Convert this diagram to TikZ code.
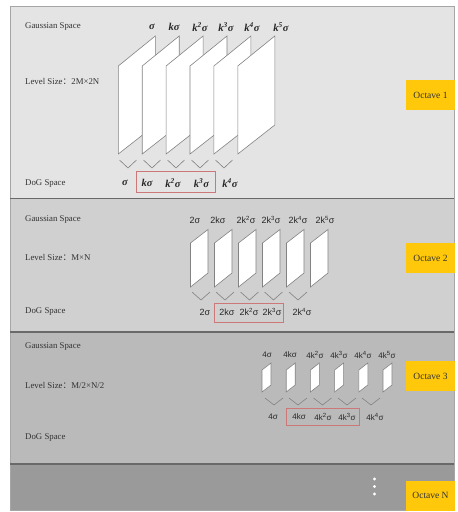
\documentclass[tikz,border=0pt]{standalone}
\usepackage{fontspec}
\setmainfont{Liberation Serif}
\newfontfamily\arialf{Liberation Sans}
\newfontfamily\cjkf{Noto Sans CJK SC}
\newcommand{\fwcolon}{{\cjkf ：}}
\definecolor{bandA}{RGB}{228,228,228}
\definecolor{bandB}{RGB}{208,208,208}
\definecolor{bandC}{RGB}{186,186,186}
\definecolor{bandD}{RGB}{154,154,154}
\definecolor{sepc}{RGB}{105,105,105}
\definecolor{octy}{RGB}{255,200,10}
\definecolor{boxred}{RGB}{205,120,120}
\definecolor{parac}{RGB}{130,130,130}
\definecolor{txtc}{RGB}{50,50,50}
\begin{document}
\begin{tikzpicture}[x=1pt,y=-1pt,
  lefttxt/.style={anchor=west,inner sep=0pt,text=txtc,font=\fontsize{8.8}{10}\selectfont},
  octbox/.style={fill=octy,inner sep=0pt,minimum width=49pt,minimum height=30pt,text=txtc,font=\fontsize{9.5}{11}\selectfont},
  biglab/.style={inner sep=0pt,text=black!85,font=\fontsize{10.5}{12}\selectfont\bfseries\itshape},
  midlab/.style={inner sep=0pt,text=black!85,font=\fontsize{9}{11}\selectfont\arialf},
  smllab/.style={inner sep=0pt,text=black!85,font=\fontsize{8}{10}\selectfont\arialf},
  para/.style={draw=parac,fill=white,line width=0.6pt,line join=miter},
  chev/.style={draw=parac,line width=0.6pt},
  redbox/.style={draw=boxred,line width=0.7pt}
]
\useasboundingbox (0,0) rectangle (458,512);
\fill[white] (0,0) rectangle (458,512);
% bands
\fill[bandA] (10,6) rectangle (454,198.5);
\fill[bandB] (10,198.5) rectangle (454,332);
\fill[bandC] (10,332) rectangle (454,464);
\fill[bandD] (10,464) rectangle (454,510);
\draw[black!35,line width=0.8pt] (10,6) rectangle (454,510);
\draw[sepc,line width=1.5pt] (10,198.5) -- (454,198.5);
\draw[sepc,line width=1.5pt] (10,332) -- (454,332);
\draw[sepc,line width=1.5pt] (10,464) -- (454,464);

% left labels
\node[lefttxt] (gs1) at (25,27) {Gaussian Space};
\node[lefttxt] (ls1) at (25,81) {Level Size\fwcolon 2M×2N};
\node[lefttxt] (ds1) at (25,184) {DoG Space};
\node[lefttxt] (gs2) at (25,220) {Gaussian Space};
\node[lefttxt] (ls2) at (25,257) {Level Size\fwcolon M×N};
\node[lefttxt] (ds2) at (25,312) {DoG Space};
\node[lefttxt] (gs3) at (25,347) {Gaussian Space};
\node[lefttxt] (ls3) at (25,385) {Level Size\fwcolon M/2×N/2};
\node[lefttxt] (ds3) at (25,438) {DoG Space};

% octave boxes
\node[octbox] (o1) at (430.5,95) {Octave 1};
\node[octbox] (o2) at (430.5,258) {Octave 2};
\node[octbox] (o3) at (430.5,376) {Octave 3};
\node[octbox] (o4) at (430.5,495.5) {Octave N};

% dots
\foreach \yy in {479,486.5,494} \fill[white] (374.5,\yy) circle (1.6);

% octave 1 parallelograms
\foreach \i in {0,...,5}{
  \pgfmathsetmacro{\xx}{118.3+23.9*\i}
  \draw[para] (\xx,66) -- (\xx,154) -- (\xx+37,125) -- (\xx+37,36) -- cycle;
}
\foreach \c in {128,152,176,200,224}
  \draw[chev] (\c-8.5,160) -- (\c,168) -- (\c+8.5,160);
\node[biglab] (a0) at (152,27) {σ};
\node[biglab] (a1) at (174,27) {kσ};
\node[biglab] (a2) at (200,27) {k\textsuperscript{2}σ};
\node[biglab] (a3) at (226,27) {k\textsuperscript{3}σ};
\node[biglab] (a4) at (252,27) {k\textsuperscript{4}σ};
\node[biglab] (a5) at (281,27) {k\textsuperscript{5}σ};
\node[biglab] (b0) at (125,183) {σ};
\node[biglab] (b1) at (147,183) {kσ};
\node[biglab] (b2) at (173,183) {k\textsuperscript{2}σ};
\node[biglab] (b3) at (201.5,183) {k\textsuperscript{3}σ};
\node[biglab] (b4) at (230,183) {k\textsuperscript{4}σ};
\draw[redbox] (136,171.5) rectangle (215,192.5);

% octave 2
\foreach \i in {0,...,5}{
  \pgfmathsetmacro{\xx}{190.5+24*\i}
  \draw[para] (\xx,243) -- (\xx,287) -- (\xx+17.5,273) -- (\xx+17.5,229.5) -- cycle;
}
\foreach \c in {201,225,249.5,273.5,298}
  \draw[chev] (\c-9,292) -- (\c,300) -- (\c+9,292);
\node[midlab] (c0) at (195,220) {2σ};
\node[midlab] (c1) at (218,220) {2kσ};
\node[midlab] (c2) at (246,220) {2k\textsuperscript{2}σ};
\node[midlab] (c3) at (271,220) {2k\textsuperscript{3}σ};
\node[midlab] (c4) at (298,220) {2k\textsuperscript{4}σ};
\node[midlab] (c5) at (325,220) {2k\textsuperscript{5}σ};
\node[midlab] (d0) at (205,312) {2σ};
\node[midlab] (d1) at (227,312) {2kσ};
\node[midlab] (d2) at (249,312) {2k\textsuperscript{2}σ};
\node[midlab] (d3) at (272,312) {2k\textsuperscript{3}σ};
\node[midlab] (d4) at (302,312) {2k\textsuperscript{4}σ};
\draw[redbox] (214,303) rectangle (283,322);

% octave 3
\foreach \i in {0,...,5}{
  \pgfmathsetmacro{\xx}{262+24.2*\i}
  \draw[para] (\xx,370) -- (\xx,392) -- (\xx+9,385) -- (\xx+9,363) -- cycle;
}
\foreach \c in {274,298,322.5,347,371}
  \draw[chev] (\c-9,398) -- (\c,405) -- (\c+9,398);
\node[smllab] (e0) at (267,355) {4σ};
\node[smllab] (e1) at (290,355) {4kσ};
\node[smllab] (e2) at (315,355) {4k\textsuperscript{2}σ};
\node[smllab] (e3) at (339,355) {4k\textsuperscript{3}σ};
\node[smllab] (e4) at (363,355) {4k\textsuperscript{4}σ};
\node[smllab] (e5) at (387,355) {4k\textsuperscript{5}σ};
\node[smllab] (f0) at (273,417) {4σ};
\node[smllab] (f1) at (299,417) {4kσ};
\node[smllab] (f2) at (323,417) {4k\textsuperscript{2}σ};
\node[smllab] (f3) at (347,417) {4k\textsuperscript{3}σ};
\node[smllab] (f4) at (375,417) {4k\textsuperscript{4}σ};
\draw[redbox] (286,408) rectangle (359,425);
\end{tikzpicture}
\end{document}
